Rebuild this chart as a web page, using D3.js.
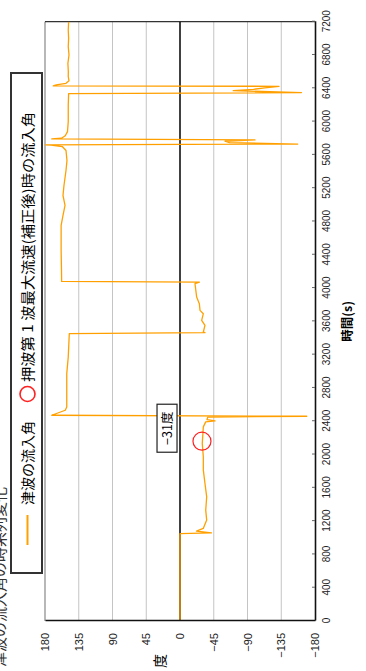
<!DOCTYPE html>
<html><head><meta charset="utf-8">
<script src="https://cdn.jsdelivr.net/npm/d3@7"></script>
<style>
html,body{margin:0;padding:0;background:#fff;}
svg{display:block;}
text{font-family:"Liberation Sans",Arial,sans-serif;}
.jp{font-family:"Noto Sans CJK JP","Noto Sans",sans-serif;}
</style></head>
<body>
<svg id="chart" width="366" height="671"></svg>
<script>
// ---- data ----
const times = [0,1050,1058,1080,1112,1212,1332,1492,1652,1812,1972,2132,2332,2392,2404,2420,2450,2460,2472,2532,2572,2972,3172,3452,
  3464,3472,3552,3612,3692,3732,3812,3892,4052,4072,4080,4212,4452,4752,4872,4992,5112,5232,5412,5532,5652,5700,5716,5720,
  5730,5748,5764,5780,5792,5800,5830,5880,6000,6200,6336,6348,6372,6388,6404,6424,6428,6440,6460,6490,6540,6600,6700,6800,6900,7000,7100,7200];
const angles = [0,0,-42,-22,-31,-35.6,-34.3,-35.6,-33.3,-31.1,-31.1,-29.7,-31.1,-34.3,-46.7,-36,-37,-169,171,153,151,151,149,147.6,
  -33.3,-31.1,-33.3,-28.9,-31.1,-26.7,-25.8,-22.2,-20,-25.8,157.8,158,158.5,158.5,156,153.3,156,154.7,152,150.7,152,157,172,179.5,
  -157,-66,-60,-100,171,158,153,150,149,149,148.5,-162,-71,-98,-113,-132,169,165,152,148,149,148.9,149.5,148,149,148.5,149,148.5];
const timeTicks = [0,400,800,1200,1600,2000,2400,2800,3200,3600,4000,4400,4800,5200,5600,6000,6400,6800,7200];
const angleTicks = [180,135,90,45,0,-45,-90,-135,-180];
const peakTime = [2160], peakAngle = [-29.3];
const noteText = "−31度";
const noteTime = 2316, noteAngle = 17.3;
const legendLabels = ["津波の流入角","押波第 1 波最大流速(補正後)時の流入角"];
const titleText = "津波の流入角の時系列変化";
const xLabel = "時間(s)", yLabel = "度";

// ---- drawing (chart drawn upright, then turned -90°) ----
const W = 671, H = 366;
const svg = d3.select("#chart");
const g = svg.append("g").attr("transform", `translate(0,${W}) rotate(-90)`);
const x = d3.scaleLinear().domain([0,7200]).range([50,649.3]);
const y = d3.scaleLinear().domain([-180,180]).range([315,45]);
const orange = "#ffa000";

// title (cut off at the page edge, as in the reference)
g.append("text").attr("class","jp").attr("x",4).attr("y",5).attr("font-size",15).attr("fill","#333").text(titleText);

// grid
g.append("g").selectAll("line").data(angleTicks.filter(v => v !== 0 && Math.abs(v) !== 180)).join("line")
  .attr("x1", x(0)).attr("x2", x(7200)).attr("y1", d => y(d)).attr("y2", d => y(d))
  .attr("stroke", "#c4c4c4").attr("stroke-width", 1);
// top / right frame
g.append("line").attr("x1", x(0)).attr("x2", x(7200)).attr("y1", y(180)).attr("y2", y(180)).attr("stroke","#888").attr("stroke-width",1.2);
g.append("line").attr("x1", x(7200)).attr("x2", x(7200)).attr("y1", y(180)).attr("y2", y(-180)).attr("stroke","#333").attr("stroke-width",1.2);
// zero line
g.append("line").attr("x1", x(0)).attr("x2", x(7200)).attr("y1", y(0)).attr("y2", y(0)).attr("stroke","#111").attr("stroke-width",1.6);

// clip
g.append("clipPath").attr("id","clip").append("rect").attr("x", x(0)).attr("y", y(180)).attr("width", x(7200)-x(0)).attr("height", y(-180)-y(180));

const pts = times.map((t,i) => [t, angles[i]]);
g.append("path").datum(pts).attr("clip-path","url(#clip)")
  .attr("d", d3.line().x(d => x(d[0])).y(d => y(d[1])))
  .attr("fill","none").attr("stroke", orange).attr("stroke-width",1.3).attr("stroke-linejoin","round");

// peak marker
g.append("g").selectAll("circle").data(peakTime).join("circle")
  .attr("cx", d => x(d)).attr("cy", (d,i) => y(peakAngle[i])).attr("r", 9)
  .attr("fill","none").attr("stroke","#ff2020").attr("stroke-width",1.2);

// note box
const nb = g.append("g").attr("transform", `translate(${x(noteTime)},${y(noteAngle)})`);
nb.append("rect").attr("x",-24).attr("y",-10).attr("width",48).attr("height",20).attr("fill","#fff").attr("stroke","#222").attr("stroke-width",1.2);
nb.append("text").attr("class","jp").attr("text-anchor","middle").attr("dy","0.36em").attr("font-size",12.5).text(noteText);

// axes
const xa = g.append("g").attr("transform", `translate(0,${y(-180)})`)
  .call(d3.axisBottom(x).tickValues(timeTicks).tickFormat(d3.format("d")).tickSizeInner(-3).tickSizeOuter(0).tickPadding(8));
xa.select(".domain").attr("stroke","#111").attr("stroke-width",1.6);
xa.selectAll(".tick line").attr("stroke","#666");
xa.selectAll("text").attr("font-size",10).attr("fill","#222").attr("font-family","Liberation Sans, Arial, sans-serif");

const ya = g.append("g").attr("transform", `translate(${x(0)},0)`)
  .call(d3.axisLeft(y).tickValues(angleTicks).tickSize(0).tickPadding(12));
ya.select(".domain").attr("stroke","#111").attr("stroke-width",1.6);
ya.selectAll("text").attr("font-size",11).attr("fill","#222").attr("font-family","Liberation Sans, Arial, sans-serif");

// axis titles
g.append("text").attr("class","jp").attr("x", (x(0)+x(7200))/2).attr("y", 352).attr("text-anchor","middle")
  .attr("font-size",12.5).attr("font-weight","bold").text(xLabel);
g.append("text").attr("class","jp").attr("x", 10).attr("y", 160).attr("text-anchor","middle").attr("dy","0.36em")
  .attr("font-size",14).text(yLabel);

// legend
const lg = g.append("g");
lg.append("rect").attr("x",98).attr("y",11).attr("width",500).attr("height",31).attr("fill","#fff").attr("stroke","#333").attr("stroke-width",2);
lg.append("line").attr("x1",126).attr("x2",156).attr("y1",27.5).attr("y2",27.5).attr("stroke",orange).attr("stroke-width",2);
lg.append("text").attr("class","jp").attr("x",166).attr("y",27.5).attr("dy","0.36em").attr("font-size",14).text(legendLabels[0]);
lg.append("circle").attr("cx",277).attr("cy",27.5).attr("r",7.5).attr("fill","none").attr("stroke","#ff2020").attr("stroke-width",1.6);
lg.append("text").attr("class","jp").attr("x",289).attr("y",27.5).attr("dy","0.36em").attr("font-size",14)
  .attr("textLength",270).attr("lengthAdjust","spacingAndGlyphs").text(legendLabels[1]);
</script>
</body></html>
